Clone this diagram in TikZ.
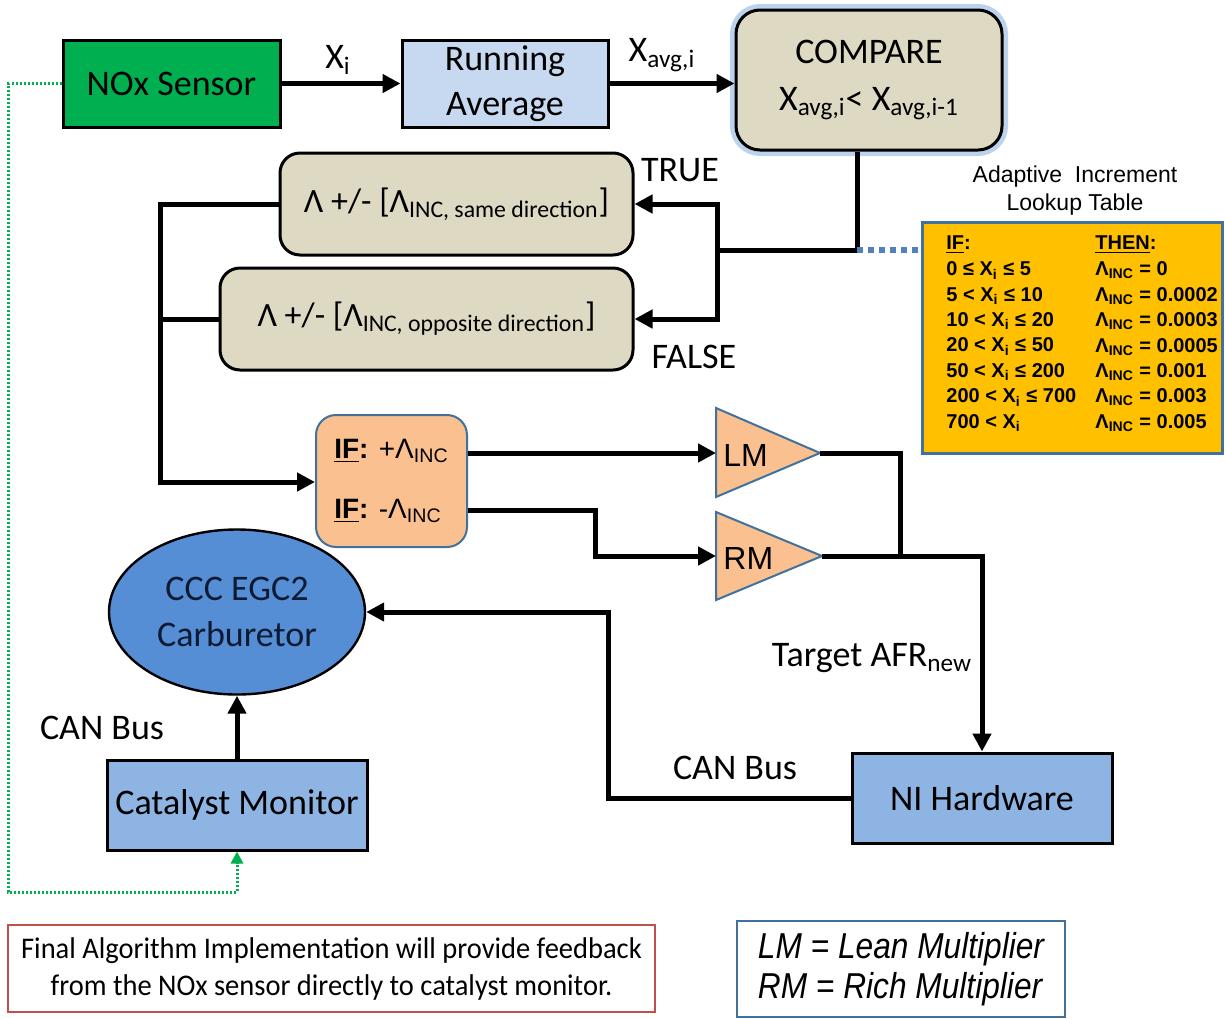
\documentclass[tikz,border=0pt]{standalone}
\usepackage{fontspec}
\setmainfont{Carlito}
\newfontfamily\arial{Liberation Sans}
\newfontfamily\notefont[FakeStretch=0.95]{Carlito}
\newfontfamily\legendfont[FakeStretch=0.88]{Liberation Sans}
\usetikzlibrary{arrows.meta, calc, shapes.geometric}

\definecolor{noxgreen}{HTML}{00B050}
\definecolor{avgblue}{HTML}{C6D9F1}
\definecolor{tanbox}{HTML}{DDD9C3}
\definecolor{orangebox}{HTML}{FAC090}
\definecolor{carbblue}{HTML}{558ED5}
\definecolor{hwblue}{HTML}{8EB4E3}
\definecolor{lutyellow}{HTML}{FFC000}
\definecolor{trimline}{HTML}{41719C}
\definecolor{dotblue}{HTML}{4F81BD}
\definecolor{glowblue}{HTML}{BCD3EE}
\definecolor{notered}{HTML}{C0504D}
\definecolor{navytext}{HTML}{0D1A33}

\newcommand{\sub}[1]{\textsubscript{#1}}

\begin{document}
\begin{tikzpicture}[x=0.5pt, y=-0.5pt,
  conn/.style={line width=2.5pt, -{Triangle[length=9pt,width=9pt]}},
  wire/.style={line width=2.5pt},
  blk/.style={draw=black, line width=1.5pt, align=center, inner sep=0pt,
    font=\fontsize{18}{22.5}\selectfont},
  rblk/.style={blk, rounded corners=10pt, fill=tanbox},
  tri/.style={draw=trimline, line width=1pt, fill=orangebox},
  lbl/.style={font=\fontsize{18}{22}\selectfont, inner sep=1pt},
  tabtxt/.style={font=\arial\bfseries\fontsize{10}{12}\selectfont, anchor=west, inner sep=0pt},
  lutdots/.style={dotblue, line width=3pt, dash pattern=on 3pt off 2.5pt},
  fbdots/.style={noxgreen, line width=1.5pt, dash pattern=on 1pt off 1pt,
    -{Triangle[length=6pt,width=6pt]}}]
  \useasboundingbox (0,0) rectangle (1225,1018);

  % top row
  \node[blk, fill=noxgreen, minimum width=108.5pt, minimum height=43.5pt] (nox) at (171.5,83.5) {NOx Sensor};
  \node[blk, fill=avgblue, minimum width=103pt, minimum height=43.5pt] (ravg) at (505,83.5) {Running\\Average};
  \node[rblk, rounded corners=12pt, minimum width=133pt, minimum height=70pt,
    preaction={draw=glowblue, line width=6pt}, font=\fontsize{18}{23.5}\selectfont] (cmp) at (869,80)
    {COMPARE\\X\sub{avg,i}< X\sub{avg,i-1}};
  \node[lbl] (xi) at (338,60) {X\sub{i}};
  \node[lbl] (xavg) at (662,55) {X\sub{avg,i}};

  % increment boxes
  \node[rblk, minimum width=176.5pt, minimum height=51pt, font=\fontsize{17}{20}\selectfont] (same) at (456.5,204)
    {Λ +/- [Λ\sub{INC, same direction}]};
  \node[rblk, minimum width=206.5pt, minimum height=51pt, font=\fontsize{17}{20}\selectfont] (opp) at (426.5,319)
    {Λ +/- [Λ\sub{INC, opposite direction}]};
  \node[lbl] (true) at (680,170) {TRUE};
  \node[lbl] (false) at (694,357) {FALSE};

  % lookup table
  \node[font=\arial\fontsize{11.5}{14}\selectfont, align=center] (luttitle) at (1075,191) {Adaptive~ Increment\\Lookup Table};
  \node[draw=trimline, line width=1.5pt, fill=lutyellow, minimum width=150pt, minimum height=115.5pt] (lut) at (1072,337.5) {};
  \node[tabtxt] (ifhd) at (946,245) {\underline{IF}:};
  \node[tabtxt] (thenhd) at (1095,245) {\underline{THEN}:};
  \foreach \cond/\val [count=\k] in {0 ≤ X\sub{i} ≤ 5/0, 5 < X\sub{i} ≤ 10/0.0002, 10 < X\sub{i} ≤ 20/0.0003,
      20 < X\sub{i} ≤ 50/0.0005, 50 < X\sub{i} ≤ 200/0.001, 200 < X\sub{i} ≤ 700/0.003, 700 < X\sub{i}/0.005}
  {
    \node[tabtxt] (cnd\k) at (946,245+25.4*\k) {\cond};
    \node[tabtxt] (val\k) at (1095,245+25.4*\k) {Λ\sub{INC} = \val};
  }

  % multiplier selection
  \node[draw=trimline, line width=1pt, fill=orangebox, rounded corners=10pt, minimum width=75.5pt, minimum height=66pt,
    align=left, font=\arial\fontsize{14}{30}\selectfont] (ifbox) at (391.5,481)
    {\textbf{\underline{IF}:} +Λ\sub{INC}\\\textbf{\underline{IF}:} -Λ\sub{INC}};
  \draw[tri] (716,408) -- (820,453) -- (716,497) -- cycle;
  \node[font=\arial\fontsize{16}{18}\selectfont, anchor=west, inner sep=0pt] (lm) at (723,455) {LM};
  \coordinate (lmin) at (716,453);
  \coordinate (lmout) at (820,453);
  \draw[tri] (716,512) -- (822,556) -- (716,600) -- cycle;
  \node[font=\arial\fontsize{16}{18}\selectfont, anchor=west, inner sep=0pt] (rm) at (723,558) {RM};
  \coordinate (rmin) at (716,556);
  \coordinate (rmout) at (822,556);

  % hardware
  \node[ellipse, draw=black, line width=1.2pt, fill=carbblue, text=navytext, align=center, inner sep=0pt,
    minimum width=128pt, minimum height=82.5pt, font=\fontsize{18}{23}\selectfont] (carb) at (237,612) {CCC EGC2\\Carburetor};
  \node[blk, fill=hwblue, minimum width=130pt, minimum height=45pt] (cat) at (237,805) {Catalyst Monitor};
  \node[blk, fill=hwblue, minimum width=130pt, minimum height=45pt] (ni) at (982,798) {NI Hardware};
  \node[lbl] (afr) at (872,658) {Target AFR\sub{new}};
  \node[lbl] (canr) at (735,768) {CAN Bus};
  \node[lbl] (canl) at (102,728) {CAN Bus};

  % notes
  \node[draw=notered, line width=0.8pt, minimum width=323.5pt, minimum height=43.5pt, align=center,
    font=\notefont\fontsize{15}{18.5}\selectfont] (note) at (331.5,968.5)
    {Final Algorithm Implementation will provide feedback\\from the NOx sensor directly to catalyst monitor.};
  \node[draw=trimline, line width=0.8pt, minimum width=164pt, minimum height=48pt, align=left,
    font=\legendfont\itshape\fontsize{18}{20}\selectfont] (legend) at (901,969) {LM = Lean Multiplier\\RM = Rich Multiplier};

  % connectors
  \draw[conn] (nox) -- (ravg);
  \draw[conn] (ravg) -- (ravg -| cmp.west);
  \coordinate (split) at (857,250);
  \coordinate (tf) at (717,250);
  \draw[wire] (cmp.south -| split) -- (split) -- (tf);
  \draw[conn] (tf) |- (same.east);
  \draw[conn] (tf) |- (opp.east);
  \draw[lutdots] (split) -- (lut.west |- split);
  \coordinate (bus) at (160,482);
  \draw[conn] (same.west) -| (bus) -- (bus -| ifbox.west);
  \draw[wire] (opp.west) -- (opp.west -| bus);
  \draw[conn] (ifbox.east |- lmin) -- (lmin);
  \coordinate (jog) at (595,556);
  \draw[conn] ([yshift=-14.5pt]ifbox.east) -| (jog) -- (rmin);
  \coordinate (merge) at (900,556);
  \draw[wire] (lmout) -| (merge);
  \draw[conn] (rmout) -| (ni.north);
  \coordinate (canup) at (608,612);
  \draw[conn] (ni.west) -| (canup) -- (carb.east);
  \draw[conn] (cat.north) -- (carb.south);
  \draw[fbdots] (nox.west) -| (8,892) -| (cat.south);
\end{tikzpicture}
\end{document}
